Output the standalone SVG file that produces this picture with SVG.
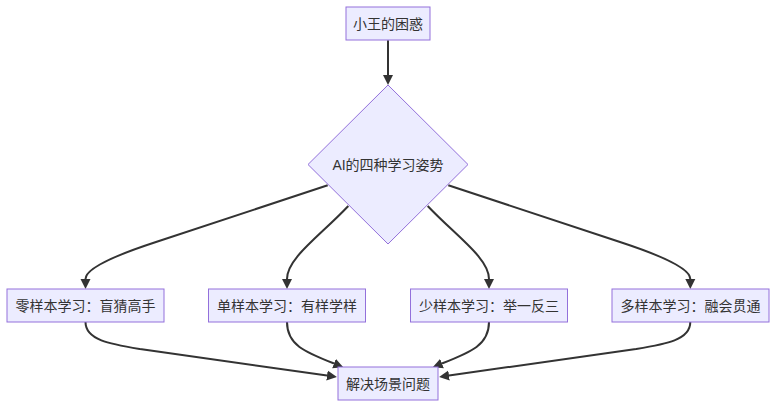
<svg xmlns="http://www.w3.org/2000/svg" width="784" height="412" viewBox="0 0 784 412">
<style>
.node rect, .node polygon { fill: #ECECFF; stroke: #9370DB; stroke-width: 1; }
.node text { font-family: "Liberation Sans", "Noto Sans CJK SC", sans-serif; font-size: 14px; fill: #333333; text-anchor: middle; dominant-baseline: central; }
.edges path { fill: none; stroke: #333333; stroke-width: 2; marker-end: url(#arrow); }
</style>
<defs>
<marker id="arrow" viewBox="0 0 10 10" refX="0" refY="5" markerWidth="10" markerHeight="10.5" markerUnits="userSpaceOnUse" orient="auto">
<path d="M0,0 L10,5 L0,10 z" fill="#333333"/>
</marker>
</defs>
<rect width="784" height="412" fill="#ffffff"/>
<g class="edges">
<path d="M388,40.3 L388,75"/>
<path d="M327.7,185.3 L156,242 Q85.5,265 85.5,279"/>
<path d="M348.3,206 C320,236 287,258 287,279"/>
<path d="M427.7,206 C456,236 489,258 489,279"/>
<path d="M448.3,185.3 L620,242 Q690.3,265 690.3,279"/>
<path d="M85.5,322 C85.5,340 110,344 140,349 L327,375.5"/>
<path d="M287,322 C287,345 305,352 334,363.5"/>
<path d="M489,322 C489,345 471,352 442,363.5"/>
<path d="M690.3,322 C690.3,340 666,344 636,349 L449,375.5"/>
</g>
<g id="node-start" class="node">
<rect x="346" y="7" width="84" height="33"/>
<text x="388" y="23.5">小王的困惑</text>
</g>
<g id="node-ai" class="node">
<polygon points="388,85 468,164.5 388,244 308,164.5"/>
<text x="388" y="164.5">AI的四种学习姿势</text>
</g>
<g id="node-zero" class="node">
<rect x="7" y="289" width="157" height="33"/>
<text x="85.5" y="305.5">零样本学习：盲猜高手</text>
</g>
<g id="node-one" class="node">
<rect x="208.5" y="289" width="157" height="33"/>
<text x="287" y="305.5">单样本学习：有样学样</text>
</g>
<g id="node-few" class="node">
<rect x="410.5" y="289" width="157" height="33"/>
<text x="489" y="305.5">少样本学习：举一反三</text>
</g>
<g id="node-many" class="node">
<rect x="612" y="289" width="157" height="33"/>
<text x="690.5" y="305.5">多样本学习：融会贯通</text>
</g>
<g id="node-end" class="node">
<rect x="338" y="367" width="100" height="33"/>
<text x="388" y="383.5">解决场景问题</text>
</g>
</svg>
